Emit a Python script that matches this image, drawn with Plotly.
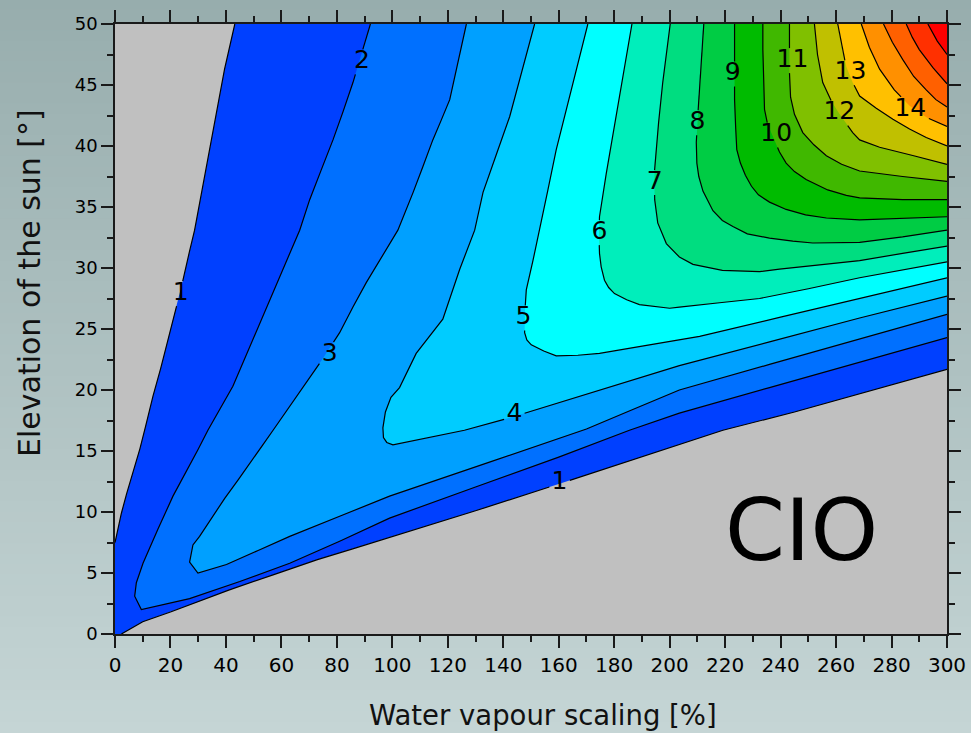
import plotly.graph_objects as go

# Level 1 has two branches: the left edge of the high-elevation gap and the low-elevation floor.
L1A_x = [0, 1.2, 2.3, 4.2, 6.5, 9.0, 11.0, 13.7, 16.5, 19.1, 21.8, 24.5, 26.8, 28.7, 31.5, 34.0, 36.5, 39.5, 43.2]
L1A_y = [7.5, 8.8, 9.9, 11.5, 13.2, 15.2, 17.0, 19.5, 21.8, 24.1, 26.5, 29.0, 31.3, 33.1, 36.5, 39.6, 42.7, 46.3, 50]
L1B_x = [2.3, 10, 20, 30, 41, 57, 73, 86, 99, 130, 160, 190, 219.2, 245, 268.5, 300]
L1B_y = [0, 1.0, 1.8, 2.65, 3.6, 4.85, 6.1, 7.0, 7.9, 10.1, 12.3, 14.5, 16.7, 18.2, 19.7, 21.7]

L2_x = [92.1, 88.8, 85.8, 82.2, 78.6, 74.3, 70.2, 66.6, 60.6, 54.6, 48.5, 42.5, 38.0, 33.5, 29.9, 25.4, 20.9, 15.5, 10.1, 7.7, 7.1, 9.5, 18, 26.9, 45, 63, 81, 99, 130, 160, 185.5, 203.5, 236, 268.5, 300]
L2_y = [50, 47.5, 45.2, 42.8, 40.5, 38.0, 35.6, 33.1, 29.9, 26.8, 23.5, 20.3, 18.5, 16.7, 15.1, 13.2, 11.3, 8.6, 5.8, 4.2, 3.1, 2.0, 2.45, 2.9, 4.3, 5.8, 7.6, 9.5, 12.05, 14.5, 16.7, 18.1, 20.2, 22.3, 24.3]

L3_x = [126.7, 124.3, 121.9, 120.7, 117.6, 114.6, 111.0, 107.5, 102.0, 96.3, 90.6, 85.8, 81.0, 75.0, 69.0, 63.0, 57.0, 53.3, 49.7, 44.6, 39.5, 35.0, 30.5, 28.1, 26.9, 29.9, 40.2, 51.6, 63, 81, 99, 134.5, 170, 186.7, 203.5, 236, 268.5, 300]
L3_y = [50, 47.5, 45, 43.8, 42.1, 40.5, 38.3, 36.2, 33.1, 31.0, 28.8, 26.8, 24.7, 22.6, 20.6, 18.6, 16.7, 15.5, 14.3, 12.7, 11.1, 9.5, 8.0, 7.3, 5.9, 5.0, 5.7, 6.85, 8.0, 9.65, 11.3, 14.05, 16.8, 18.4, 20.0, 22.1, 24.2, 26.2]

L4_x = [151.3, 148.3, 145.4, 142.3, 137.5, 132.7, 129.7, 124.3, 118.2, 108.6, 102.6, 99.5, 97.5, 96.6, 96.8, 98.0, 100.2, 110, 126, 142, 172.8, 203.5, 236, 268.5, 300]
L4_y = [50, 47.5, 45, 42.4, 39.3, 36.2, 33.1, 29.9, 25.8, 23.0, 20.2, 19.4, 18.2, 16.9, 16.1, 15.7, 15.5, 15.95, 16.7, 17.7, 19.85, 22.0, 23.95, 25.9, 27.7]

L5_x = [170.5, 167.7, 165.1, 162.1, 159.1, 156.1, 153.1, 150.7, 148.3, 147.8, 147.7, 148.5, 150.1, 154.6, 159.1, 166.9, 174.7, 189, 203.5, 210.8, 239.6, 268.5, 300]
L5_y = [50, 47.5, 45.2, 42.5, 39.7, 36.4, 33.1, 30.6, 28.2, 26.4, 24.7, 24.1, 23.7, 23.2, 22.8, 22.85, 23.0, 23.55, 24.1, 24.4, 25.95, 27.5, 29.2]

L6_x = [186.4, 184.5, 182.5, 179.5, 177.1, 174.7, 174.5, 174.7, 175.3, 176.5, 178.0, 180.1, 184.5, 189.1, 200, 203.5, 218, 232.4, 250, 268.5, 300]
L6_y = [50, 47.5, 45, 41.1, 37.7, 34.2, 32.7, 31.2, 30.1, 29.0, 28.4, 27.9, 27.4, 27.0, 26.7, 26.8, 27.15, 27.5, 28.3, 29.2, 30.5]

L7_x = [200.2, 198.8, 197.5, 196.0, 194.6, 194.5, 194.6, 195.7, 198.8, 203.5, 208.4, 219, 232.4, 239.6, 254, 268.5, 284, 300]
L7_y = [50, 47.6, 45.2, 41.9, 38.6, 37.0, 35.6, 33.7, 32.0, 30.9, 30.3, 29.8, 29.7, 29.9, 30.25, 30.6, 31.2, 31.8]

L8_x = [212.3, 211.3, 210.2, 209.6, 209.8, 210.5, 212.0, 215.6, 219, 222.8, 228, 236, 244.4, 251.6, 268.5, 284, 300]
L8_y = [50, 46.4, 42.7, 40.3, 38.6, 37.5, 36.3, 34.7, 33.9, 33.4, 32.8, 32.45, 32.2, 32.05, 32.1, 32.55, 33.1]

L9_x = [223.4, 223.4, 223.4, 223.8, 224.2, 225.5, 227.3, 229.5, 232, 236, 242, 249, 256.5, 268.5, 284, 300]
L9_y = [50, 46, 43.8, 41.5, 39.7, 38.6, 37.6, 36.7, 36.0, 35.4, 34.8, 34.35, 34.1, 33.95, 34.05, 34.2]

L10_x = [233.6, 233.6, 233.9, 234.2, 235.3, 237.0, 239.6, 242, 245, 249.2, 251.6, 257, 263.7, 268.5, 284, 300]
L10_y = [50, 47.9, 45.5, 43.0, 41.8, 40.9, 39.5, 38.6, 37.9, 37.25, 37.0, 36.4, 35.95, 35.75, 35.6, 35.6]

L11_x = [243.2, 243.2, 243.6, 245, 248, 252, 256.5, 262, 268.5, 284, 300]
L11_y = [50, 46, 44, 42.6, 41.1, 40.1, 39.2, 38.5, 37.95, 37.5, 37.1]

L12_x = [252.2, 253.3, 255.2, 258, 261, 266, 268.5, 275.7, 288, 300]
L12_y = [50, 47.5, 45.2, 43.8, 42.7, 41.1, 40.5, 39.9, 39.2, 38.5]

L13_x = [260.6, 262, 263.7, 266, 268.5, 274.5, 280.5, 286.5, 292.5, 300]
L13_y = [50, 48.2, 46.5, 45.2, 44.1, 43.1, 42.2, 41.4, 40.7, 40.0]

L14_x = [269.1, 272, 275.7, 281, 286.5, 293, 300]
L14_y = [50, 48.1, 46.3, 44.6, 43.3, 42.3, 41.6]

L15_x = [277.1, 280.3, 284, 288, 292.5, 296, 300]
L15_y = [50, 48.5, 47.1, 45.7, 44.6, 43.8, 43.2]

L16_x = [285.3, 287.5, 290, 295, 300]
L16_y = [50, 48.9, 47.9, 46.4, 45.1]

L17_x = [293.1, 296.5, 300]
L17_y = [50, 48.6, 47.5]

# Fill colour of each band [level, level + 1); values below 1 stay grey
levels = list(range(1, 18))
band_colors = ["#0040FF", "#0070FF", "#00A0FF", "#00CCFF", "#00FFFF", "#00EEBB",
               "#00DD80", "#00CC44", "#00BB00", "#40B800", "#80C000", "#C0C000",
               "#FFC000", "#FF9000", "#FF6000", "#FF3000", "#FF0000"]
below_color = "#C0C0C0"

# In-line contour labels (value, position)
label_level = [1, 1, 2, 3, 4, 5, 6, 7, 8, 9, 10, 11, 12, 13, 14]
label_x = [23.7, 160.3, 89.0, 77.4, 144.0, 147.3, 174.7, 194.6, 210.0, 222.7, 238.4, 244.3, 261.2, 265.2, 286.8]
label_y = [27.9, 12.4, 46.9, 22.9, 18.0, 25.9, 32.9, 37.0, 41.9, 45.9, 40.9, 47.0, 42.7, 46.0, 43.0]

X_MIN, X_MAX = 0, 300
Y_MIN, Y_MAX = 0, 50

iso = {
    2: (L2_x, L2_y), 3: (L3_x, L3_y), 4: (L4_x, L4_y), 5: (L5_x, L5_y),
    6: (L6_x, L6_y), 7: (L7_x, L7_y), 8: (L8_x, L8_y), 9: (L9_x, L9_y),
    10: (L10_x, L10_y), 11: (L11_x, L11_y), 12: (L12_x, L12_y), 13: (L13_x, L13_y),
    14: (L14_x, L14_y), 15: (L15_x, L15_y), 16: (L16_x, L16_y), 17: (L17_x, L17_y),
}
iso_lines = {1: [(L1A_x, L1A_y), (L1B_x, L1B_y)]}
for k, v in iso.items():
    iso_lines[k] = [v]

# Page geometry
W, H = 971, 733
M_L, M_R, M_T, M_B = 115, 24, 24, 99
PW, PH = W - M_L - M_R, H - M_T - M_B
PX_PER_X = PW / (X_MAX - X_MIN)
PX_PER_Y = PH / (Y_MAX - Y_MIN)


def segment_in_box(x0, y0, x1, y1, xmin, xmax, ymin, ymax):
    """Parameter interval of segment (x0,y0)-(x1,y1) lying inside the box (Liang-Barsky)."""
    dx, dy = x1 - x0, y1 - y0
    t0, t1 = 0.0, 1.0
    for p, q in ((-dx, x0 - xmin), (dx, xmax - x0), (-dy, y0 - ymin), (dy, ymax - y0)):
        if p == 0:
            if q < 0:
                return None
        else:
            t = q / p
            if p < 0:
                t0 = max(t0, t)
            else:
                t1 = min(t1, t)
    return (t0, t1) if t0 < t1 else None


def break_under_labels(xs, ys, boxes):
    """Leave a gap in an isoline wherever a contour label sits on it."""
    out_x, out_y = [], []
    last = None
    for i in range(len(xs) - 1):
        x0, y0, x1, y1 = xs[i], ys[i], xs[i + 1], ys[i + 1]
        visible = [(0.0, 1.0)]
        for box in boxes:
            hit = segment_in_box(x0, y0, x1, y1, *box)
            if hit is None:
                continue
            a, b = hit
            nxt = []
            for s, e in visible:
                if e <= a or s >= b:
                    nxt.append((s, e))
                else:
                    if s < a:
                        nxt.append((s, a))
                    if e > b:
                        nxt.append((b, e))
            visible = nxt
        for s, e in visible:
            pa = (x0 + s * (x1 - x0), y0 + s * (y1 - y0))
            pb = (x0 + e * (x1 - x0), y0 + e * (y1 - y0))
            if last is not None and abs(pa[0] - last[0]) < 1e-9 and abs(pa[1] - last[1]) < 1e-9:
                out_x.append(pb[0]); out_y.append(pb[1])
            else:
                if out_x:
                    out_x.append(None); out_y.append(None)
                out_x += [pa[0], pb[0]]; out_y += [pa[1], pb[1]]
            last = pb
    return out_x, out_y


fig = go.Figure()

# Region z >= 1: bounded by both level-1 branches and the top/right/bottom edges
fig.add_trace(go.Scatter(
    x=L1A_x + [X_MAX] + L1B_x[::-1] + [X_MIN],
    y=L1A_y + [Y_MAX] + L1B_y[::-1] + [Y_MIN],
    fill="toself", fillcolor=band_colors[0], mode="lines",
    line=dict(width=0), hoverinfo="skip", showlegend=False))

# Regions z >= L for L >= 2 are closed through the top-right corner; painted in order
for lev in levels[1:]:
    xs, ys = iso[lev]
    fig.add_trace(go.Scatter(
        x=xs + [X_MAX], y=ys + [Y_MAX],
        fill="toself", fillcolor=band_colors[lev - 1], mode="lines",
        line=dict(width=0), hoverinfo="skip", showlegend=False))

# Black isolines, interrupted behind their labels
LABEL_FONT = 25
line_style = dict(color="black", width=1.2)
for lev in levels:
    boxes = []
    for lv, lx, ly in zip(label_level, label_x, label_y):
        if lv == lev:
            half_w = (len(str(lv)) * 0.33 * LABEL_FONT + 2) / PX_PER_X
            half_h = (0.5 * LABEL_FONT) / PX_PER_Y
            boxes.append((lx - half_w, lx + half_w, ly - half_h, ly + half_h))
    for xs, ys in iso_lines[lev]:
        bx, by = break_under_labels(xs, ys, boxes)
        fig.add_trace(go.Scatter(x=bx, y=by, mode="lines", line=line_style,
                                 connectgaps=False, hoverinfo="skip", showlegend=False))

# Contour labels
fig.add_trace(go.Scatter(
    x=label_x, y=label_y, text=[str(v) for v in label_level], mode="text",
    textfont=dict(family="DejaVu Sans", size=LABEL_FONT, color="black"),
    textposition="middle center", hoverinfo="skip", showlegend=False))

# Vertical grey-teal gradient behind the whole page
shapes = []
top_rgb = (151, 173, 173)
bot_rgb = (197, 213, 213)
n_steps = 70
for i in range(n_steps):
    py0 = i * H / n_steps
    py1 = (i + 1) * H / n_steps
    t = (i + 0.5) / n_steps
    r, g, b = (round(top_rgb[k] + (bot_rgb[k] - top_rgb[k]) * t) for k in range(3))
    shapes.append(dict(
        type="rect", xref="paper", yref="paper", layer="below",
        x0=-M_L / PW - 0.02, x1=1 + M_R / PW + 0.02,
        y0=(H - M_B - py1) / PH - 0.002, y1=(H - M_B - py0) / PH + 0.002,
        fillcolor=f"rgb({r},{g},{b})", line=dict(width=0)))
# Grey field (values below 1) under the coloured bands
shapes.append(dict(type="rect", xref="x", yref="y", layer="below",
                   x0=X_MIN, x1=X_MAX, y0=Y_MIN, y1=Y_MAX,
                   fillcolor=below_color, line=dict(width=0)))

axis_common = dict(
    showgrid=False, zeroline=False, showline=True, linecolor="#1a1a1a", linewidth=1.5,
    mirror="allticks", ticks="outside", ticklen=12, tickwidth=1.5, tickcolor="#1a1a1a",
    automargin=False,
)

fig.update_layout(
    width=W, height=H, autosize=False,
    margin=dict(l=M_L, r=M_R, t=M_T, b=M_B, pad=0, autoexpand=False),
    paper_bgcolor="rgb(174,193,193)",
    plot_bgcolor=below_color,
    shapes=shapes,
    xaxis=dict(range=[X_MIN, X_MAX], tick0=0, dtick=20,
               minor=dict(dtick=10, ticklen=6, tickwidth=1.5, tickcolor="#1a1a1a", ticks="outside"),
               tickfont=dict(family="DejaVu Sans", size=20, color="black"),
               **axis_common),
    yaxis=dict(range=[Y_MIN, Y_MAX], tick0=0, dtick=5,
               minor=dict(dtick=2.5, ticklen=6, tickwidth=1.5, tickcolor="#1a1a1a", ticks="outside"),
               tickfont=dict(family="DejaVu Sans", size=18, color="black"),
               **axis_common),
    annotations=[
        dict(text="Water vapour scaling [%]", xref="paper", yref="paper",
             x=0.514, y=(H - M_B - 715) / PH, xanchor="center", yanchor="middle",
             showarrow=False, font=dict(family="DejaVu Sans", size=27.5, color="#111111")),
        dict(text="Elevation of the sun [°]", xref="paper", yref="paper", textangle=-90,
             x=-0.1025, y=0.575, xanchor="center", yanchor="middle",
             showarrow=False, font=dict(family="DejaVu Sans", size=30, color="#111111")),
        dict(text="CIO", xref="x", yref="y", x=247.5, y=8.5,
             xanchor="center", yanchor="middle", showarrow=False,
             font=dict(family="DejaVu Sans", size=86, color="black")),
    ],
)

fig.write_html("out.html")
